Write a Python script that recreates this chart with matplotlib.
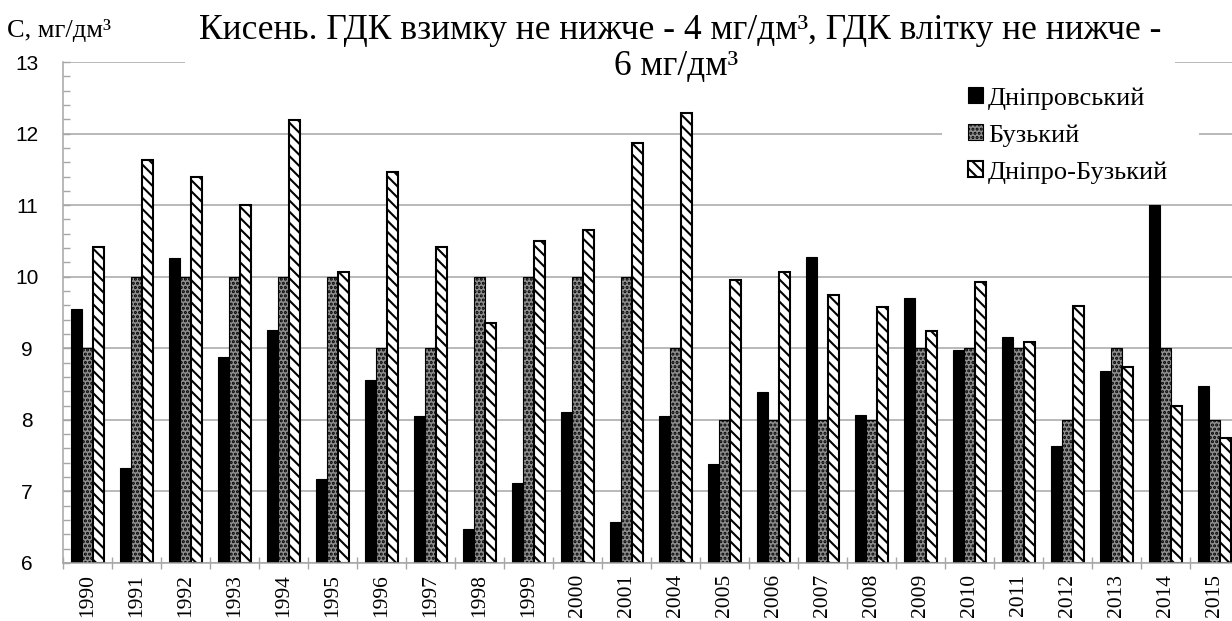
import matplotlib
matplotlib.use("Agg")
import matplotlib.pyplot as plt
import numpy as np
from matplotlib.patches import Rectangle, Patch
from matplotlib.ticker import MultipleLocator, FixedLocator

years = ["1990", "1991", "1992", "1993", "1994", "1995", "1996", "1997", "1998",
         "1999", "2000", "2001", "2004", "2005", "2006", "2007", "2008", "2009",
         "2010", "2011", "2012", "2013", "2014", "2015"]
dniprovskyi = [9.55, 7.33, 10.26, 8.88, 9.26, 7.18, 8.56, 8.06, 6.48, 7.12, 8.11, 6.57,
               8.06, 7.38, 8.39, 10.28, 8.07, 9.70, 8.97, 9.16, 7.63, 8.68, 11.0, 8.48]
buzkyi = [9, 10, 10, 10, 10, 10, 9, 9, 10, 10, 10, 10,
          9, 8, 8, 8, 8, 9, 9, 9, 8, 9, 9, 8]
dnipro_buzkyi = [10.41, 11.63, 11.40, 11.0, 12.19, 10.06, 11.46, 10.41, 9.36, 10.50, 10.65, 11.87,
                 12.29, 9.95, 10.07, 9.74, 9.58, 9.24, 9.93, 9.09, 9.59, 8.74, 8.19, 7.75]
series_names = ["Дніпровський", "Бузький", "Дніпро-Бузький"]

title_line1 = "Кисень. ГДК взимку не нижче - 4 мг/дм³, ГДК влітку не нижче -"
title_line2 = "6 мг/дм³"
ylabel = "С, мг/дм³"

plt.rcParams['hatch.linewidth'] = 1.5
serif = ["Liberation Serif", "DejaVu Serif"]

W, H = 1232, 621
fig = plt.figure(figsize=(W / 100, H / 100), dpi=100)
x0, x1 = 63, 1232
yb, yt = 563, 62
ax = fig.add_axes([x0 / W, (H - yb) / H, (x1 - x0) / W, (yb - yt) / H])

x = np.arange(len(years))
bw = 0.23
grid_c = "#a6a6a6"
hatch_db = "\\\\\\"

ax.bar(x - bw, [v - 6 for v in dniprovskyi], bw, bottom=6, color="black",
       edgecolor="black", linewidth=0.8, zorder=2)
ax.bar(x, [v - 6 for v in buzkyi], bw, bottom=6, color="#8f8f8f",
       edgecolor="black", linewidth=0.8, hatch="....", zorder=2)
ax.bar(x + bw, [v - 6 for v in dnipro_buzkyi], bw, bottom=6, color="white",
       edgecolor="black", linewidth=1.5, hatch=hatch_db, zorder=2)

ax.set_ylim(6, 13)
ax.set_xlim(-0.5, -0.5 + (x1 - x0) / 49.0)

ax.yaxis.set_major_locator(MultipleLocator(1))
ax.yaxis.set_minor_locator(MultipleLocator(0.2))
ax.grid(axis="y", which="major", color=grid_c, linewidth=1.1, zorder=0)
ax.set_axisbelow(True)

for s in ["top", "right"]:
    ax.spines[s].set_visible(False)
for s in ["left", "bottom"]:
    ax.spines[s].set_color(grid_c)
    ax.spines[s].set_linewidth(1.1)

ax.tick_params(axis="y", which="both", direction="in", length=5, color=grid_c, width=1.0,
               labelsize=15, pad=26)
ax.set_yticks(range(6, 14))
ax.set_yticklabels([str(v) for v in range(6, 14)], fontfamily=["Liberation Sans", "DejaVu Sans"])
for lab in ax.get_yticklabels():
    lab.set_horizontalalignment("center")

ax.set_xticks(x)
ax.set_xticklabels(years, rotation=90, fontfamily=serif, fontsize=15.5)
ax.tick_params(axis="x", which="major", length=0, pad=8)
ax.xaxis.set_minor_locator(FixedLocator(np.arange(-0.5, len(years) + 0.5, 1)))
ax.tick_params(axis="x", which="minor", direction="inout", length=9, color=grid_c, width=1.0)

# white boxes behind title and legend (as in the original)
ax.add_patch(Rectangle((185 / W, (H - 86) / H), (1175 - 185) / W, 44 / H,
                       transform=fig.transFigure, facecolor="white", edgecolor="none",
                       zorder=3, clip_on=False))
ax.add_patch(Rectangle((942 / W, (H - 194) / H), (1199 - 942) / W, 110 / H,
                       transform=fig.transFigure, facecolor="white", edgecolor="none",
                       zorder=3, clip_on=False))

fig.text(680 / W, 1 - 39 / H, title_line1, ha="center", va="baseline", fontsize=25.5,
         fontfamily=serif, zorder=5)
fig.text(676 / W, 1 - 75 / H, title_line2, ha="center", va="baseline", fontsize=25.5,
         fontfamily=serif, zorder=5)
fig.text(7 / W, 1 - 37 / H, ylabel, ha="left", va="baseline", fontsize=19, fontfamily=serif)

handles = [Patch(facecolor="black", edgecolor="black", linewidth=0.8),
           Patch(facecolor="#8f8f8f", edgecolor="black", linewidth=0.8, hatch="...."),
           Patch(facecolor="white", edgecolor="black", linewidth=1.5, hatch=hatch_db)]
leg = ax.legend(handles, series_names, loc="upper left",
                bbox_to_anchor=(968 / W, 1 - 87 / H), bbox_transform=fig.transFigure,
                frameon=False, prop={"family": serif, "size": 19},
                handlelength=0.55, handleheight=0.55, handletextpad=0.2,
                labelspacing=0.55, borderaxespad=0, borderpad=0)
leg.set_zorder(6)

fig.savefig("out.png", dpi=100)
